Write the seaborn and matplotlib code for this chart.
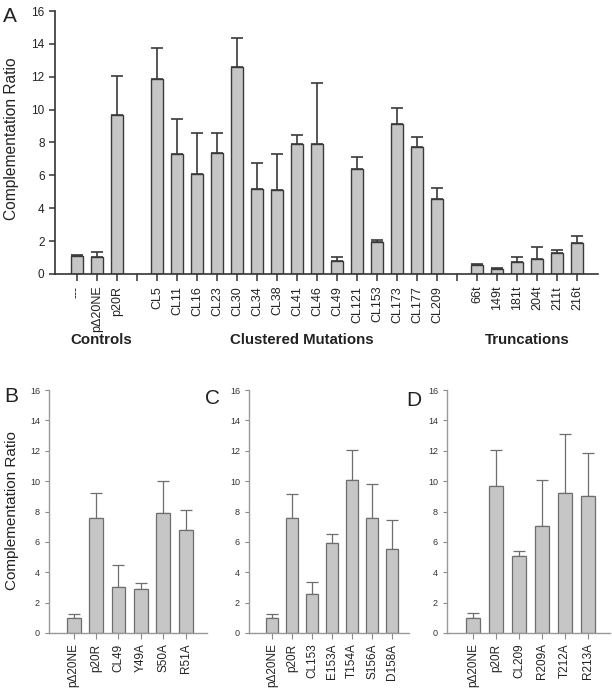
import numpy as np
import pandas as pd
import matplotlib
matplotlib.use("Agg")
import matplotlib.pyplot as plt
import seaborn as sns

sns.set_style("ticks")
plt.rcParams['font.family'] = ['Liberation Sans', 'DejaVu Sans']

# Panel A data
controls = ['---', 'p\u039420NE', 'p20R']
controls_val = [1.10, 1.03, 9.66]
controls_err = [0.05, 0.29, 2.39]

clustered = ['CL5', 'CL11', 'CL16', 'CL23', 'CL30', 'CL34', 'CL38', 'CL41',
             'CL46', 'CL49', 'CL121', 'CL153', 'CL173', 'CL177', 'CL209']
clustered_val = [11.85, 7.28, 6.10, 7.34, 12.58, 5.15, 5.09, 7.91,
                 7.93, 0.77, 6.41, 1.93, 9.15, 7.71, 4.58]
clustered_err = [1.92, 2.15, 2.50, 1.26, 1.80, 1.58, 2.19, 0.55,
                 3.69, 0.26, 0.71, 0.14, 0.93, 0.63, 0.65]

truncations = ['66t', '149t', '181t', '204t', '211t', '216t']
truncations_val = [0.55, 0.28, 0.71, 0.93, 1.30, 1.87]
truncations_err = [0.04, 0.10, 0.30, 0.71, 0.16, 0.46]

# Panels B, C, D data
b_labels = ['p\u039420NE', 'p20R', 'CL49', 'Y49A', 'S50A', 'R51A']
b_val = [0.99, 7.60, 3.05, 2.92, 7.87, 6.75]
b_err = [0.28, 1.59, 1.45, 0.40, 2.15, 1.34]

c_labels = ['p\u039420NE', 'p20R', 'CL153', 'E153A', 'T154A', 'S156A', 'D158A']
c_val = [1.00, 7.59, 2.56, 5.90, 10.07, 7.59, 5.51]
c_err = [0.26, 1.56, 0.80, 0.65, 1.99, 2.19, 1.95]

d_labels = ['p\u039420NE', 'p20R', 'CL209', 'R209A', 'T212A', 'R213A']
d_val = [1.00, 9.65, 5.10, 7.03, 9.24, 9.00]
d_err = [0.30, 2.39, 0.30, 3.06, 3.84, 2.87]

BAR_COLOR = '#c6c6c6'


def draw_bars(ax, labels, values, errors, order, edge, lw, err_color, err_lw,
              capsize, width):
    df = pd.DataFrame({'label': labels, 'value': values})
    sns.barplot(data=df, x='label', y='value', order=order, color=BAR_COLOR,
                saturation=1, width=width, edgecolor=edge, linewidth=lw,
                errorbar=None, ax=ax)
    xs = [order.index(l) for l in labels]
    ax.errorbar(xs, values, yerr=[np.zeros(len(errors)), errors], fmt='none',
                ecolor=err_color, elinewidth=err_lw, capsize=capsize,
                capthick=err_lw, zorder=1)
    for p in ax.patches:
        p.set_zorder(2)


fig = plt.figure(figsize=(6.12, 6.92), dpi=100)

# ---- Panel A ----
axA = fig.add_axes([55 / 612, 1 - 274 / 692, 543 / 612, 263 / 692])
order_a = controls + ['gap1'] + clustered + ['gap2'] + truncations
draw_bars(axA, controls + clustered + truncations,
          controls_val + clustered_val + truncations_val,
          controls_err + clustered_err + truncations_err,
          order_a, '#3a3a3a', 1.0, '#3a3a3a', 1.2, 4.5, 0.63)
axA.set_ylim(0, 16)
axA.set_xlim(-1.1, 26.05)
axA.set_yticks(range(0, 17, 2))
axA.set_xticks(range(len(order_a)))
axA.set_xticklabels(['' if o.startswith('gap') else o for o in order_a],
                    rotation=90, fontsize=9, color='#222222')
axA.tick_params(axis='y', labelsize=8.5, colors='#333333', length=4, width=1.1,
                labelcolor='#222222')
axA.tick_params(axis='x', length=5, width=1.1, colors='#333333',
                labelcolor='#222222')
axA.set_xlabel('')
axA.set_ylabel('')
sns.despine(ax=axA)
for s in ['left', 'bottom']:
    axA.spines[s].set_color('#333333')
    axA.spines[s].set_linewidth(1.2)

fig.text(12 / 612, 1 - 139 / 692, 'Complementation Ratio', rotation=90,
         ha='center', va='center', fontsize=11.2, color='#222222')
fig.text(10 / 612, 1 - 17 / 692, 'A', ha='center', va='center', fontsize=15,
         color='#222222')
fig.text(101 / 612, 1 - 340 / 692, 'Controls', ha='center', va='center',
         fontsize=10.8, fontweight='bold', color='#222222')
fig.text(302 / 612, 1 - 340 / 692, 'Clustered Mutations', ha='center',
         va='center', fontsize=10.8, fontweight='bold', color='#222222')
fig.text(527 / 612, 1 - 340 / 692, 'Truncations', ha='center', va='center',
         fontsize=10.8, fontweight='bold', color='#222222')

# ---- Panels B, C, D ----
bottom_panels = [
    ('B', b_labels, b_val, b_err, 49, 207, (11, 397), (-1.1, 5.95)),
    ('C', c_labels, c_val, c_err, 249, 409, (212, 398), (-1.15, 6.85)),
    ('D', d_labels, d_val, d_err, 447, 610, (414, 400), (-1.13, 5.96)),
]
for letter, labels, vals, errs, x0, x1, lpos, xlim in bottom_panels:
    ax = fig.add_axes([x0 / 612, 1 - 633 / 692, (x1 - x0) / 612, 243 / 692])
    draw_bars(ax, labels, vals, errs, list(labels), '#6e6e6e', 0.9,
              '#6e6e6e', 0.9, 4.5, 0.62)
    ax.set_ylim(0, 16)
    ax.set_xlim(*xlim)
    ax.set_yticks(range(0, 17, 2))
    ax.set_xticks(range(len(labels)))
    ax.set_xticklabels(labels, rotation=90, fontsize=8.5, color='#222222')
    ax.tick_params(axis='y', labelsize=6.5, colors='#8a8a8a', length=3,
                   width=0.8, labelcolor='#333333')
    ax.tick_params(axis='x', length=4, width=0.8, colors='#8a8a8a',
                   labelcolor='#222222')
    ax.set_xlabel('')
    ax.set_ylabel('')
    sns.despine(ax=ax)
    for s in ['left', 'bottom']:
        ax.spines[s].set_color('#999999')
        ax.spines[s].set_linewidth(1.0)
    fig.text(lpos[0] / 612, 1 - lpos[1] / 692, letter, ha='center',
             va='center', fontsize=15, color='#222222')

fig.text(12 / 612, 1 - 511 / 692, 'Complementation Ratio', rotation=90,
         ha='center', va='center', fontsize=11, color='#222222')

fig.savefig('out.png', dpi=100)
